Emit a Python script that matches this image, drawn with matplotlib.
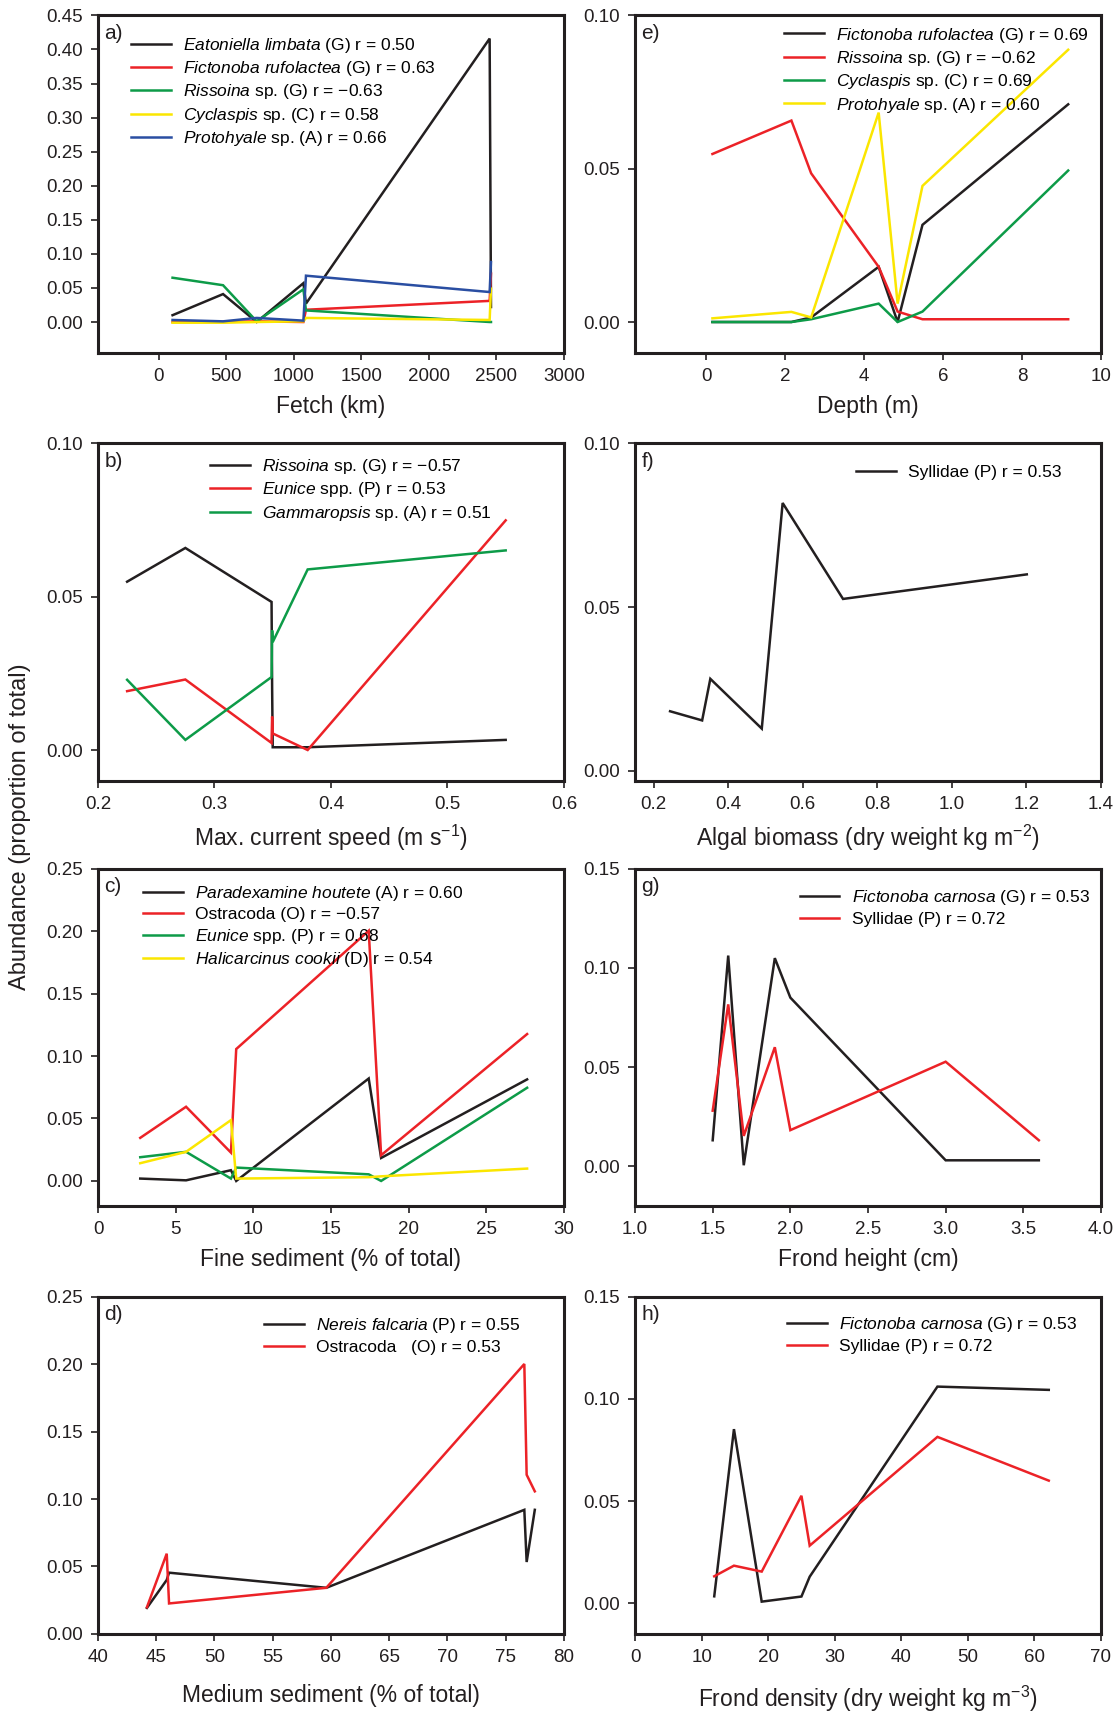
import numpy as np
import matplotlib
matplotlib.use('Agg')
import matplotlib.pyplot as plt

plt.rcParams['font.family'] = ['Liberation Sans', 'DejaVu Sans']
plt.rcParams['mathtext.fontset'] = 'custom'
plt.rcParams['mathtext.rm'] = 'Liberation Sans'
plt.rcParams['mathtext.it'] = 'Liberation Sans:italic'
plt.rcParams['mathtext.default'] = 'regular'

BLACK = '#231f20'
RED = '#ec2227'
GREEN = '#0d9b48'
YELLOW = '#fbe600'
BLUE = '#2a4ea2'
M = '\u2212'

# a) fetch
fetch = [102, 476, 725, 1071, 1090, 2450, 2460]
a_eatoniella = [0.010, 0.041, 0.000, 0.057, 0.027, 0.416, 0.022]
a_fictonoba = [0.000, 0.000, 0.001, 0.000, 0.018, 0.031, 0.071]
a_rissoina = [0.065, 0.054, 0.001, 0.048, 0.017, 0.000, 0.000]
a_cyclaspis = [-0.001, -0.001, 0.000, 0.001, 0.006, 0.003, 0.049]
a_protohyale = [0.003, 0.001, 0.006, 0.002, 0.068, 0.044, 0.088]

# e) depth
depth = [0.16, 2.16, 2.66, 4.37, 4.85, 5.48, 9.17]
e_fictonoba = [0.000, 0.000, 0.0015, 0.018, 0.000, 0.0317, 0.071]
e_rissoina = [0.0548, 0.0657, 0.0485, 0.018, 0.0034, 0.0009, 0.0009]
e_cyclaspis = [0.000, 0.000, 0.0009, 0.006, 0.000, 0.0034, 0.0494]
e_protohyale = [0.0012, 0.0033, 0.0015, 0.0683, 0.006, 0.0444, 0.0888]

# b) max current speed
current = [0.225, 0.275, 0.349, 0.3495, 0.350, 0.380, 0.550]
b_rissoina = [0.0549, 0.0659, 0.0483, 0.020, 0.0009, 0.0009, 0.0033]
b_eunice = [0.0192, 0.0230, 0.0023, 0.0109, 0.0054, 0.0000, 0.0749]
b_gammaropsis = [0.0229, 0.0033, 0.0238, 0.0390, 0.0352, 0.0589, 0.0651]

# f) algal biomass
biomass = [0.244, 0.330, 0.352, 0.490, 0.546, 0.708, 1.201]
f_syllidae = [0.0182, 0.0154, 0.0281, 0.0129, 0.0818, 0.0525, 0.0600]

# c) fine sediment
fine = [2.72, 5.67, 8.56, 8.9, 17.43, 18.23, 27.63]
c_paradexamine = [0.0019, 0.0005, 0.0086, 0.0000, 0.0820, 0.0184, 0.0813]
c_ostracoda = [0.0345, 0.0594, 0.0227, 0.1056, 0.2003, 0.0206, 0.1176]
c_eunice = [0.0190, 0.0233, 0.0019, 0.0107, 0.0053, 0.0000, 0.0746]
c_halicarcinus = [0.0142, 0.0233, 0.0487, 0.0019, 0.0030, 0.0037, 0.0099]

# g) frond height
height = [1.5, 1.6, 1.7, 1.9, 2.0, 3.0, 3.6]
g_fictonoba = [0.0131, 0.1062, 0.0005, 0.1049, 0.0850, 0.0030, 0.0030]
g_syllidae = [0.0280, 0.0816, 0.0153, 0.0600, 0.0182, 0.0527, 0.0131]

# d) medium sediment
medium = [44.2, 45.9, 46.1, 59.6, 76.6, 76.8, 77.5]
d_nereis = [0.0193, 0.0400, 0.0454, 0.0342, 0.0920, 0.0533, 0.0920]
d_ostracoda = [0.0198, 0.0595, 0.0226, 0.0342, 0.2001, 0.1180, 0.1057]

# h) frond density
density = [11.9, 14.86, 19.03, 25.0, 26.24, 45.43, 62.16]
h_fictonoba = [0.0034, 0.0852, 0.0008, 0.0033, 0.0130, 0.1060, 0.1044]
h_syllidae = [0.0132, 0.0184, 0.0155, 0.0526, 0.0282, 0.0814, 0.0600]


def it(s):
    return r'$\mathit{' + s.replace(' ', r'\ ') + '}$'


fig = plt.figure(figsize=(11.2, 17.12), dpi=100)

W = 0.416
H = 0.197
left_x = 0.0875
right_x = 0.567
rows = [0.794, 0.544, 0.2956, 0.0456]


def panel(pos, letter, x, series, xlim, xticks, xfmt, ylim, yticks, xlabel,
          leg_anchor, labelpad=7):
    ax = fig.add_axes([pos[0], pos[1], W, H])
    for ys, col, lab in series:
        ax.plot(x, ys, color=col, lw=1.8, label=lab, solid_joinstyle='miter')
    ax.set_xlim(*xlim)
    ax.set_ylim(*ylim)
    ax.set_xticks(xticks)
    ax.set_xticklabels([xfmt % v for v in xticks])
    ax.set_yticks(yticks)
    ax.set_yticklabels(['%.2f' % v for v in yticks])
    for s in ax.spines.values():
        s.set_linewidth(2.2)
        s.set_color(BLACK)
    ax.tick_params(direction='out', length=5, width=1.2, labelsize=13.5,
                   pad=6, colors=BLACK)
    ax.set_xlabel(xlabel, fontsize=16.5, labelpad=labelpad, color=BLACK)
    ax.text(0.014, 0.975, letter, transform=ax.transAxes, ha='left',
            va='top', fontsize=15, color=BLACK)
    ax.legend(loc='upper left', bbox_to_anchor=leg_anchor, frameon=False,
              fontsize=12.5, borderpad=0, borderaxespad=0, handlelength=2.3,
              handletextpad=0.7, labelspacing=0.25)
    return ax


panel((left_x, rows[0]), 'a)', fetch, [
    (a_eatoniella, BLACK, it('Eatoniella limbata') + ' (G) r = 0.50'),
    (a_fictonoba, RED, it('Fictonoba rufolactea') + ' (G) r = 0.63'),
    (a_rissoina, GREEN, it('Rissoina') + ' sp. (G) r = ' + M + '0.63'),
    (a_cyclaspis, YELLOW, it('Cyclaspis') + ' sp. (C) r = 0.58'),
    (a_protohyale, BLUE, it('Protohyale') + ' sp. (A) r = 0.66'),
], (-450, 3000), list(range(0, 3001, 500)), '%d', (-0.045, 0.45),
    np.arange(0, 0.451, 0.05), 'Fetch (km)', (0.07, 0.94))

panel((right_x, rows[0]), 'e)', depth, [
    (e_fictonoba, BLACK, it('Fictonoba rufolactea') + ' (G) r = 0.69'),
    (e_rissoina, RED, it('Rissoina') + ' sp. (G) r = ' + M + '0.62'),
    (e_cyclaspis, GREEN, it('Cyclaspis') + ' sp. (C) r = 0.69'),
    (e_protohyale, YELLOW, it('Protohyale') + ' sp. (A) r = 0.60'),
], (-1.8, 10), list(range(0, 11, 2)), '%d', (-0.01, 0.10),
    [0, 0.05, 0.10], 'Depth (m)', (0.32, 0.97))

panel((left_x, rows[1]), 'b)', current, [
    (b_rissoina, BLACK, it('Rissoina') + ' sp. (G) r = ' + M + '0.57'),
    (b_eunice, RED, it('Eunice') + ' spp. (P) r = 0.53'),
    (b_gammaropsis, GREEN, it('Gammaropsis') + ' sp. (A) r = 0.51'),
], (0.2, 0.6), [0.2, 0.3, 0.4, 0.5, 0.6], '%.1f', (-0.01, 0.10),
    [0, 0.05, 0.10], r'Max. current speed (m s$^{-1}$)', (0.24, 0.96))

panel((right_x, rows[1]), 'f)', biomass, [
    (f_syllidae, BLACK, 'Syllidae (P) r = 0.53'),
], (0.15, 1.4), [0.2, 0.4, 0.6, 0.8, 1.0, 1.2, 1.4], '%.1f', (-0.003, 0.10),
    [0, 0.05, 0.10], r'Algal biomass (dry weight kg m$^{-2}$)', (0.475, 0.935))

panel((left_x, rows[2]), 'c)', fine, [
    (c_paradexamine, BLACK, it('Paradexamine houtete') + ' (A) r = 0.60'),
    (c_ostracoda, RED, 'Ostracoda (O) r = ' + M + '0.57'),
    (c_eunice, GREEN, it('Eunice') + ' spp. (P) r = 0.68'),
    (c_halicarcinus, YELLOW, it('Halicarcinus cookii') + ' (D) r = 0.54'),
], (0, 30), list(range(0, 31, 5)), '%d', (-0.02, 0.25),
    np.arange(0, 0.251, 0.05), 'Fine sediment (% of total)', (0.096, 0.955))

panel((right_x, rows[2]), 'g)', height, [
    (g_fictonoba, BLACK, it('Fictonoba carnosa') + ' (G) r = 0.53'),
    (g_syllidae, RED, 'Syllidae (P) r = 0.72'),
], (1.0, 4.0), [1.0, 1.5, 2.0, 2.5, 3.0, 3.5, 4.0], '%.1f', (-0.02, 0.15),
    [0, 0.05, 0.10, 0.15], 'Frond height (cm)', (0.353, 0.942))

panel((left_x, rows[3]), 'd)', medium, [
    (d_nereis, BLACK, it('Nereis falcaria') + ' (P) r = 0.55'),
    (d_ostracoda, RED, 'Ostracoda   (O) r = 0.53'),
], (40, 80), list(range(40, 81, 5)), '%d', (0, 0.25),
    np.arange(0, 0.251, 0.05), 'Medium sediment (% of total)', (0.356, 0.942),
    labelpad=13)

panel((right_x, rows[3]), 'h)', density, [
    (h_fictonoba, BLACK, it('Fictonoba carnosa') + ' (G) r = 0.53'),
    (h_syllidae, RED, 'Syllidae (P) r = 0.72'),
], (0, 70), list(range(0, 71, 10)), '%d', (-0.015, 0.15),
    [0, 0.05, 0.10, 0.15], r'Frond density (dry weight kg m$^{-3}$)',
    (0.327, 0.945), labelpad=13)

fig.text(0.0175, 0.517, 'Abundance (proportion of total)', rotation=90,
         ha='center', va='center', fontsize=17, color=BLACK)

fig.savefig('out.png', dpi=100)
